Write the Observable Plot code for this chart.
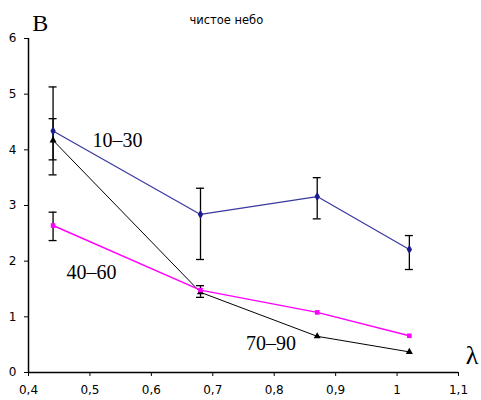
<!DOCTYPE html>
<html><head><meta charset="utf-8">
<script src="https://cdn.jsdelivr.net/npm/d3@7"></script>
<script src="https://cdn.jsdelivr.net/npm/@observablehq/plot@0.6"></script>
<style>body{margin:0;background:#fff}</style>
</head><body><div id="chart"></div>
<script>
const lambda = [0.44, 0.68, 0.87, 1.02];
const s1030 = [4.34, 2.84, 3.16, 2.21];
const lo1030 = [3.55, 2.03, 2.76, 1.85];
const hi1030 = [5.13, 3.31, 3.50, 2.46];
const s4060 = [2.64, 1.48, 1.08, 0.66];
const lo4060 = [2.37, null, null, null];
const hi4060 = [2.88, null, null, null];
const s7090 = [4.17, 1.44, 0.65, 0.37];
const lo7090 = [3.82, 1.35, null, null];
const hi7090 = [4.56, 1.56, null, null];
const xTicks = [0.4, 0.5, 0.6, 0.7, 0.8, 0.9, 1.0, 1.1];
const yTicks = [0, 1, 2, 3, 4, 5, 6];
const labels = [
  {x: 0.504, y: 4.16, t: "10–30"},
  {x: 0.462, y: 1.80, t: "40–60"},
  {x: 0.754, y: 0.52, t: "70–90"}
];

const rows = [];
[[s1030, lo1030, hi1030, "10–30"], [s4060, lo4060, hi4060, "40–60"], [s7090, lo7090, hi7090, "70–90"]].forEach(([v, lo, hi, g]) => {
  lambda.forEach((x, i) => rows.push({x, y: v[i], lo: lo[i], hi: hi[i], g}));
});
const errs = rows.filter(d => d.lo != null);
const cap = 0.0065;
const fmt = d => String(d).replace(".", ",");
const serif = "Liberation Serif, Times New Roman, serif";
const sans = "DejaVu Sans, Arial, sans-serif";

const plot = Plot.plot({
  width: 481, height: 400,
  marginLeft: 28, marginRight: 23, marginTop: 38, marginBottom: 28,
  style: {fontFamily: sans, fontSize: "12px", background: "#fff", overflow: "visible"},
  x: {domain: [0.4, 1.1]},
  y: {domain: [0, 6]},
  marks: [
    Plot.axisX({ticks: xTicks, tickFormat: fmt, tickSize: 4, tickPadding: 9, label: null, fontSize: 12, color: "#000"}),
    Plot.axisY({ticks: yTicks, tickFormat: fmt, tickSize: 4, tickPadding: 8, label: null, fontSize: 12, color: "#000"}),
    Plot.ruleY([0], {stroke: "#000", strokeWidth: 1.5}),
    Plot.ruleX([0.4], {stroke: "#000", strokeWidth: 1.5}),
    Plot.ruleX(errs, {x: "x", y1: "lo", y2: "hi", stroke: "#000", strokeWidth: 1.3}),
    Plot.ruleY(errs, {y: "hi", x1: d => d.x - cap, x2: d => d.x + cap, stroke: "#000", strokeWidth: 1.3}),
    Plot.ruleY(errs, {y: "lo", x1: d => d.x - cap, x2: d => d.x + cap, stroke: "#000", strokeWidth: 1.3}),
    Plot.line(rows.filter(d => d.g === "70–90"), {x: "x", y: "y", stroke: "#000", strokeWidth: 1}),
    Plot.line(rows.filter(d => d.g === "40–60"), {x: "x", y: "y", stroke: "#ff00ff", strokeWidth: 1.5}),
    Plot.line(rows.filter(d => d.g === "10–30"), {x: "x", y: "y", stroke: "#3838a0", strokeWidth: 1.2}),
    Plot.dot(rows.filter(d => d.g === "70–90"), {x: "x", y: "y", symbol: "triangle", r: 2.6, fill: "#000"}),
    Plot.dot(rows.filter(d => d.g === "40–60"), {x: "x", y: "y", symbol: "square", r: 2.6, fill: "#ff00ff"}),
    Plot.dot(rows.filter(d => d.g === "10–30"), {x: "x", y: "y", symbol: "diamond", r: 2.8, fill: "#1a1a8c"}),
    Plot.text(labels, {x: "x", y: "y", text: "t", textAnchor: "start", fontFamily: serif, fontSize: 20, fill: "#000"}),
    Plot.text(["В"], {x: 0.406, y: 6.27, textAnchor: "start", fontFamily: serif, fontSize: 24, fill: "#000"}),
    Plot.text(["чистое небо"], {x: 0.722, y: 6.32, fontFamily: sans, fontSize: 11.5, fill: "#000"}),
    Plot.text(["λ"], {x: 1.122, y: 0.3, fontFamily: serif, fontSize: 26, fill: "#000"})
  ]
});
document.getElementById("chart").appendChild(plot);
</script></body></html>
